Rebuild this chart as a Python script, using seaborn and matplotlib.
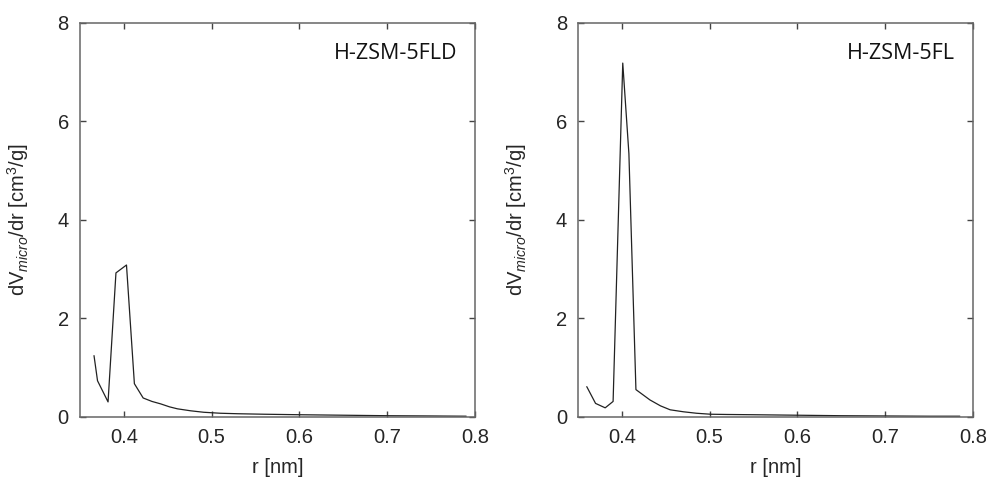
"""
Distribuição de microporos (dV/dr) para as duas amostras H-ZSM-5
"""

import numpy as np
import pandas as pd
import seaborn as sns
import matplotlib.pyplot as plt

# Dados
r_fld = [0.366, 0.370, 0.382, 0.391, 0.403, 0.412, 0.422, 0.432, 0.442, 0.452,
         0.461, 0.476, 0.491, 0.510, 0.530, 0.560, 0.600, 0.650, 0.700, 0.750, 0.790]
v_fld = [1.24, 0.73, 0.30, 2.92, 3.08, 0.67, 0.38, 0.31, 0.26, 0.20,
         0.16, 0.12, 0.09, 0.07, 0.06, 0.05, 0.04, 0.03, 0.02, 0.015, 0.01]

r_fl = [0.360, 0.370, 0.381, 0.390, 0.401, 0.408, 0.416, 0.432, 0.444, 0.455,
        0.470, 0.485, 0.501, 0.520, 0.550, 0.600, 0.650, 0.700, 0.750, 0.785]
v_fl = [0.61, 0.27, 0.18, 0.31, 7.18, 5.34, 0.55, 0.34, 0.22, 0.14,
        0.10, 0.07, 0.05, 0.045, 0.04, 0.03, 0.02, 0.015, 0.01, 0.01]

amostras = ['H-ZSM-5FLD', 'H-ZSM-5FL']
dados = [(r_fld, v_fld), (r_fl, v_fl)]

x_ticks = [0.4, 0.5, 0.6, 0.7, 0.8]
y_ticks = [0, 2, 4, 6, 8]

sns.set_style('ticks')
plt.rcParams['font.family'] = ['Liberation Sans', 'DejaVu Sans']
plt.rcParams['mathtext.fontset'] = 'custom'
plt.rcParams['mathtext.rm'] = 'Liberation Sans'
plt.rcParams['mathtext.it'] = 'Liberation Sans:italic'

fig = plt.figure(figsize=(9.86, 4.86), dpi=100)
posicoes = [[0.0811, 0.1426, 0.4006, 0.8107],
            [0.5862, 0.1426, 0.4006, 0.8107]]

for pos, nome, (r, v) in zip(posicoes, amostras, dados):
    ax = fig.add_axes(pos)
    df = pd.DataFrame({'r': r, 'v': v})
    sns.lineplot(data=df, x='r', y='v', ax=ax, color='#222222', linewidth=0.9)
    ax.set_xlim(0.35, 0.8)
    ax.set_ylim(0, 8)
    ax.set_xticks(x_ticks)
    ax.set_xticklabels([f'{t:.1f}' for t in x_ticks])
    ax.set_yticks(y_ticks)
    ax.tick_params(direction='in', length=4, width=1, color='#444444',
                   top=True, right=True, labelsize=14.5, pad=8)
    for s in ax.spines.values():
        s.set_color('#666666')
        s.set_linewidth(1.1)
    ax.set_xlabel('r [nm]', fontsize=14.5, labelpad=8)
    ax.set_ylabel(r'dV$_{\mathit{micro}}$/dr [cm$^3$/g]', fontsize=14.5, labelpad=19)
    ax.text(0.955, 0.908, nome, transform=ax.transAxes, ha='right', va='baseline',
            fontsize=15.5, family=['Open Sans', 'DejaVu Sans'], color='#111111')

plt.savefig('out.png', dpi=100)
